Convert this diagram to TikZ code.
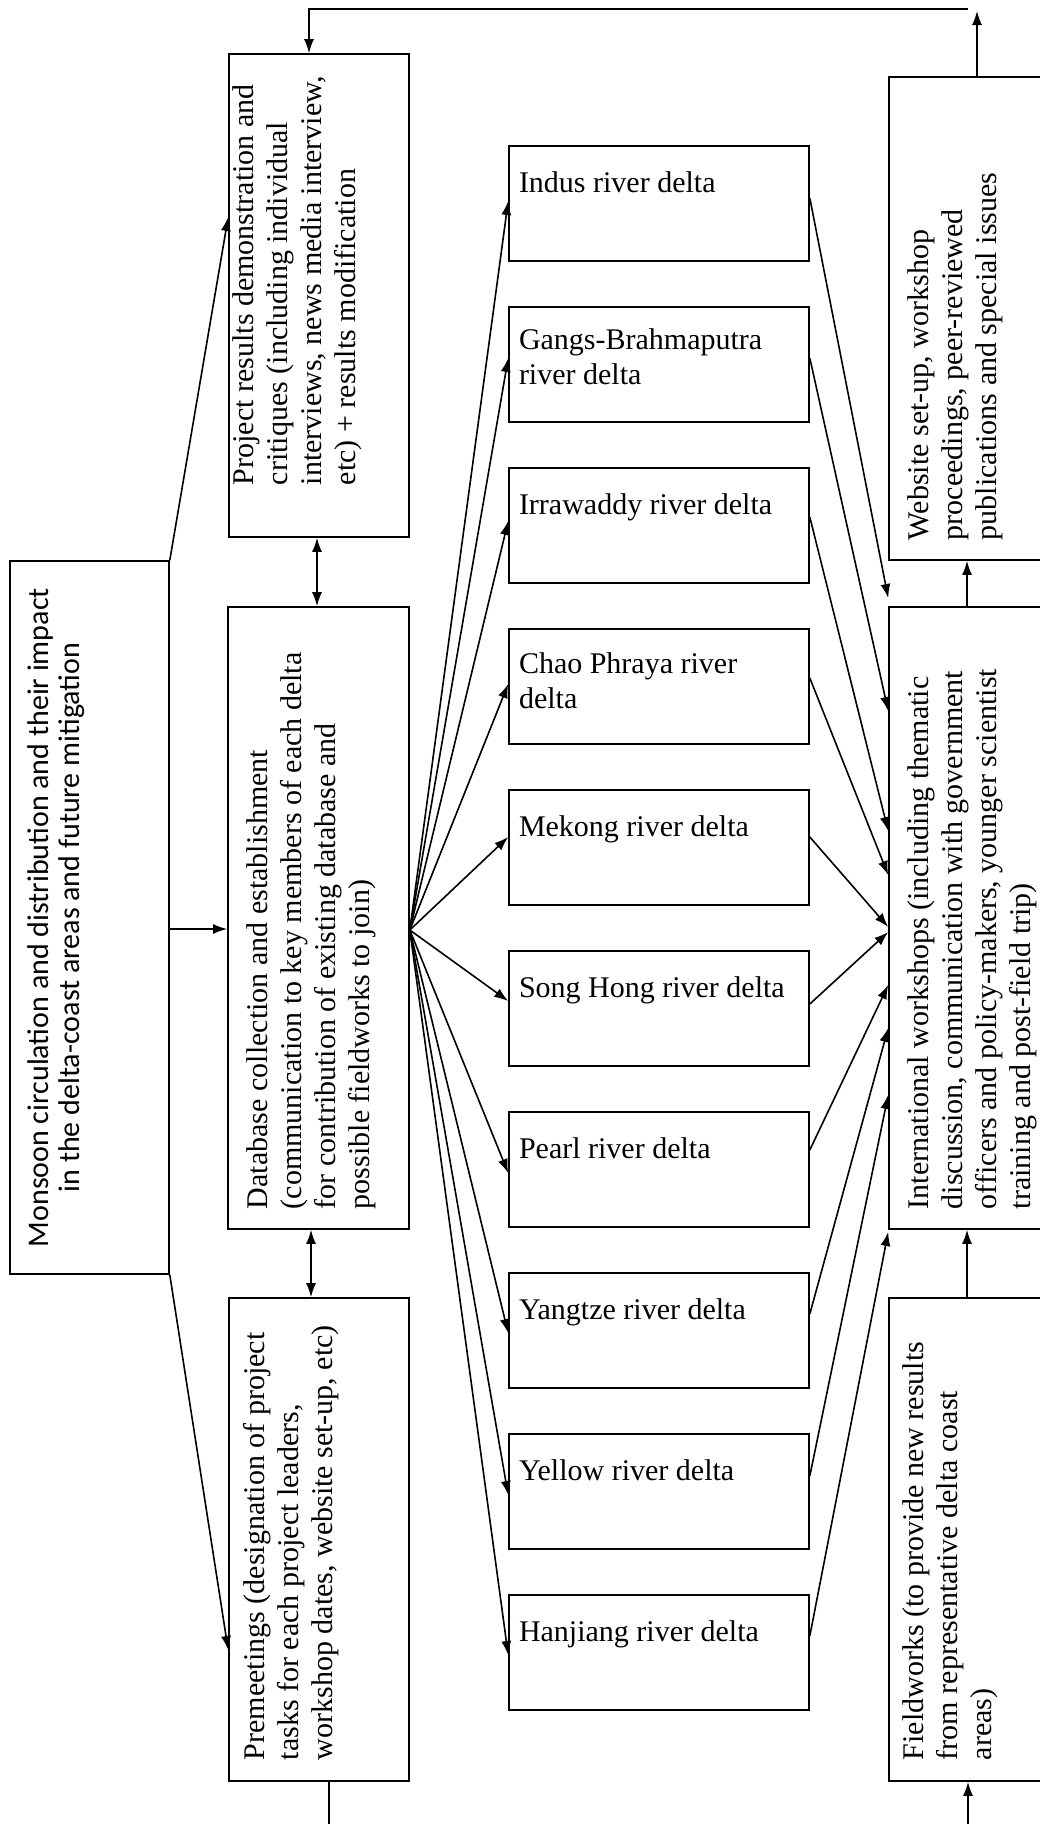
\documentclass[tikz,border=0pt]{standalone}
\usepackage{fontspec}
\setmainfont{Liberation Serif}
\newfontfamily\monsoonfont{Carlito}
\usepackage{graphicx}
\usetikzlibrary{arrows.meta}

% box text: width, height, top gap, left gap, text
\newcommand{\boxtxt}[5]{\parbox[c][#2][t]{#1}{\raggedright\leftskip=#4\relax\vspace*{#3}#5\par}}

\tikzset{
  stagebox/.style={draw,inner sep=0pt,font=\fontsize{30}{34}\selectfont},
  deltabox/.style={draw,inner sep=0pt,font=\fontsize{30}{35}\selectfont},
}

\begin{document}
\begin{tikzpicture}[x=1pt,y=-1pt,line width=1.6pt,>={Latex[length=14pt,width=10pt]}]
\useasboundingbox (0,0) rectangle (1040,1824);
\clip (0,0) rectangle (1040,1824);
\fill[white] (0,0) rectangle (1040,1824);

% left column
\node[stagebox,font=\monsoonfont\fontsize{30}{31}\selectfont] (monsoon) at (89.5,917.5)
    {\rotatebox{90}{\boxtxt{713pt}{159pt}{18pt}{0pt}{\centering Monsoon circulation and distribution and their impact\\ in the delta-coast areas and future mitigation}}};
\node[stagebox] (proj) at (319,295.5)
    {\rotatebox{90}{\boxtxt{483pt}{180pt}{4pt}{52pt}{Project results demonstration and\\ critiques (including individual\\ interviews, news media interview,\\ etc) + results modification}}};
\node[stagebox] (dbase) at (318.5,918)
    {\rotatebox{90}{\boxtxt{622pt}{181pt}{19pt}{20pt}{Database collection and establishment\\ (communication to key members of each delta\\ for contribution of existing database and\\ possible fieldworks to join)}}};
\node[stagebox] (premeet) at (319,1539.5)
    {\rotatebox{90}{\boxtxt{483pt}{180pt}{14pt}{21pt}{Premeetings (designation of project\\ tasks for each project leaders,\\ workshop dates, website set-up, etc)}}};

% deltas
\node[deltabox] (indus) at (659,203.5) {\boxtxt{300pt}{115pt}{26pt}{10pt}{Indus river delta}};
\node[deltabox] (gangs) at (659,364.5) {\boxtxt{300pt}{115pt}{22pt}{10pt}{Gangs-Brahmaputra\\ river delta}};
\node[deltabox] (irrawaddy) at (659,525.5) {\boxtxt{300pt}{115pt}{26pt}{10pt}{Irrawaddy river delta}};
\node[deltabox] (chao) at (659,686.5) {\boxtxt{300pt}{115pt}{24pt}{10pt}{Chao Phraya river\\ delta}};
\node[deltabox] (mekong) at (659,847.5) {\boxtxt{300pt}{115pt}{26pt}{10pt}{Mekong river delta}};
\node[deltabox] (songhong) at (659,1008.5) {\boxtxt{300pt}{115pt}{26pt}{10pt}{Song Hong river delta}};
\node[deltabox] (pearl) at (659,1169.5) {\boxtxt{300pt}{115pt}{26pt}{10pt}{Pearl river delta}};
\node[deltabox] (yangtze) at (659,1330.5) {\boxtxt{300pt}{115pt}{26pt}{10pt}{Yangtze river delta}};
\node[deltabox] (yellow) at (659,1491.5) {\boxtxt{300pt}{115pt}{26pt}{10pt}{Yellow river delta}};
\node[deltabox] (hanjiang) at (659,1652.5) {\boxtxt{300pt}{115pt}{26pt}{10pt}{Hanjiang river delta}};

% right column
\node[stagebox] (website) at (979,318.5)
    {\rotatebox{90}{\boxtxt{483pt}{180pt}{19pt}{20pt}{Website set-up, workshop\\ proceedings, peer-reviewed\\ publications and special issues}}};
\node[stagebox] (intl) at (979,918)
    {\rotatebox{90}{\boxtxt{622pt}{180pt}{19pt}{20pt}{International workshops (including thematic\\ discussion, communication with government\\ officers and policy-makers, younger scientist\\ training and post-field trip)}}};
\node[stagebox] (field) at (979,1539.5)
    {\rotatebox{90}{\boxtxt{483pt}{180pt}{14pt}{21pt}{Fieldworks (to provide new results\\ from representative delta coast\\ areas)}}};

% monsoon to first stage
\draw[->] (monsoon.north east) -- ([yshift=78.5pt]proj.west);
\draw[->] ([yshift=-11.5pt]monsoon.east) -- ([yshift=-11pt]dbase.west);
\draw[->] (monsoon.south east) -- ([yshift=-110.5pt]premeet.west);
\draw[<->] ([xshift=-2pt]proj.south) -- ([xshift=-1.5pt]dbase.north);
\draw[<->] ([xshift=-7.5pt]dbase.south) -- ([xshift=-8pt]premeet.north);

% database out to each delta
\coordinate (fan) at ([yshift=-12pt]dbase.east);
\draw[->] (fan) -- ([yshift=2.5pt]indus.west);
\draw[->] (fan) -- ([yshift=6.5pt]gangs.west);
\draw[->] (fan) -- ([yshift=4.5pt]irrawaddy.west);
\draw[->] (fan) -- ([yshift=2.5pt]chao.west);
\draw[->] (fan) -- ([yshift=10.5pt]mekong.west);
\draw[->] (fan) -- ([yshift=7.5pt]songhong.west);
\draw[->] (fan) -- ([yshift=-3.5pt]pearl.west);
\draw[->] (fan) -- ([yshift=-2.5pt]yangtze.west);
\draw[->] (fan) -- ([yshift=-3.5pt]yellow.west);
\draw[->] (fan) -- ([yshift=-2.5pt]hanjiang.west);

% deltas into workshops
\draw[->] ([yshift=5.5pt]indus.east) -- ([yshift=320pt]intl.west);
\draw[->] ([yshift=6.5pt]gangs.east) -- ([yshift=207pt]intl.west);
\draw[->] ([yshift=8.5pt]irrawaddy.east) -- ([yshift=87pt]intl.west);
\draw[->] ([yshift=8.5pt]chao.east) -- ([yshift=43pt]intl.west);
\draw[->] ([yshift=10.5pt]mekong.east) -- ([yshift=-9pt]intl.west);
\draw[->] ([yshift=4.5pt]songhong.east) -- ([yshift=-14pt]intl.west);
\draw[->] ([yshift=19.5pt]pearl.east) -- ([yshift=-67pt]intl.west);
\draw[->] ([yshift=16.5pt]yangtze.east) -- ([yshift=-110pt]intl.west);
\draw[->] ([yshift=15.5pt]yellow.east) -- ([yshift=-177pt]intl.west);
\draw[->] ([yshift=16.5pt]hanjiang.east) -- ([yshift=-314pt]intl.west);

% right column links
\draw[->] ([xshift=-12pt]intl.north) -- ([xshift=-12pt]website.south);
\draw[->] ([xshift=-12pt]field.north) -- ([xshift=-12pt]intl.south);

% feedback loops
\coordinate (upend) at (977,11);
\coordinate (topend) at (968,9);
\draw[->] (website.north -| upend) -- (upend);
\draw[->] (topend) -| ([xshift=-10pt]proj.north);
\coordinate (botl) at (329,1830);
\coordinate (botr) at (968,1830);
\draw ([xshift=10pt]premeet.south) -- (botl);
\draw[->] (botr) -- (botr |- field.south);
\end{tikzpicture}
\end{document}
